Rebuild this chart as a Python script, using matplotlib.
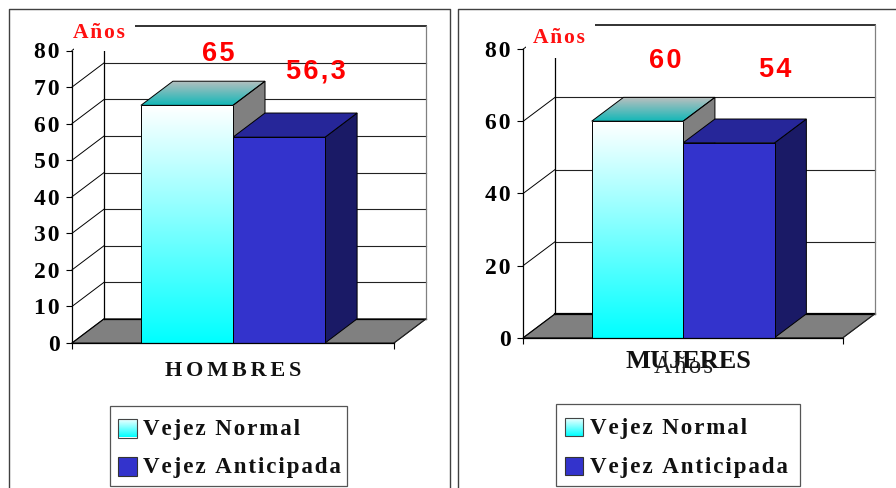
import numpy as np
import matplotlib
matplotlib.use("Agg")
import matplotlib.pyplot as plt
from matplotlib.colors import LinearSegmentedColormap
from matplotlib.patches import Polygon, Rectangle

W, H = 896, 488

panels = ["HOMBRES", "MUJERES"]
series_names = ["Vejez Normal", "Vejez Anticipada"]
vejez_normal = [65, 60]
vejez_anticipada = [56.3, 54]
ticks_hombres = [0, 10, 20, 30, 40, 50, 60, 70, 80]
ticks_mujeres = [0, 20, 40, 60, 80]

SERIF = "Liberation Serif"
SANS = "Liberation Sans"
BAR_W = 0.286
DEPTH_X = 0.0994
DEPTH_Y = 6.6

front_cmap = LinearSegmentedColormap.from_list("front", ["#ffffff", "#00ffff"])
top_cmap = LinearSegmentedColormap.from_list("top", ["#bcbfbf", "#14b8b8"])
grad = np.linspace(0, 1, 128).reshape(-1, 1)


def spaced(s, n=1):
    # no letter-spacing in matplotlib, hair spaces get close enough
    return ("\u200a" * n).join(s)


def box_3d(ax, x, v, top_color, side_color):
    side = Polygon([(x + BAR_W, 0), (x + BAR_W + DEPTH_X, DEPTH_Y),
                    (x + BAR_W + DEPTH_X, v + DEPTH_Y), (x + BAR_W, v)],
                   fc=side_color, ec="black", lw=0.7, clip_on=False, zorder=3)
    ax.add_patch(side)
    top = Polygon([(x, v), (x + BAR_W, v), (x + BAR_W + DEPTH_X, v + DEPTH_Y),
                   (x + DEPTH_X, v + DEPTH_Y)],
                  fc=top_color, ec="black", lw=0.7, clip_on=False, zorder=3)
    ax.add_patch(top)
    return top


def draw_panel(rect, ticks, normal, anticipada, floor_lw):
    x0, x1, y_top, y_zero = rect
    ax = fig.add_axes([x0 / W, 1 - y_zero / H, (x1 - x0) / W, (y_zero - y_top) / H])
    ax.patch.set_alpha(0)
    ax.set_xlim(0, 1)
    ax.set_ylim(0, 80)

    # floor and back wall
    ax.add_patch(Polygon([(0, 0), (1, 0), (1 + DEPTH_X, DEPTH_Y), (DEPTH_X, DEPTH_Y)],
                         fc="#808080", ec="#222222", lw=0.8, clip_on=False, zorder=1))
    ax.plot([DEPTH_X, 1 + DEPTH_X], [DEPTH_Y, DEPTH_Y], color="black", lw=floor_lw,
            clip_on=False, zorder=1)
    for t in ticks[1:]:
        ax.plot([DEPTH_X, 1 + DEPTH_X], [t + DEPTH_Y, t + DEPTH_Y], color="#222222",
                lw=1.3 if t == 80 else 0.8, clip_on=False, zorder=1)
    for t in ticks:
        ax.plot([0, DEPTH_X], [t, t + DEPTH_Y], color="black", lw=0.7, clip_on=False, zorder=1)
    ax.plot([DEPTH_X, DEPTH_X], [DEPTH_Y, 80 + DEPTH_Y], color="black", lw=0.9, clip_on=False, zorder=1)
    ax.plot([1 + DEPTH_X, 1 + DEPTH_X], [DEPTH_Y, 80 + DEPTH_Y], color="#808080", lw=0.9,
            clip_on=False, zorder=1)
    ax.plot([1, 1 + DEPTH_X], [0, DEPTH_Y], color="#222222", lw=0.7, clip_on=False, zorder=1)

    # first bar, gradient front and top
    xa = 0.5 - BAR_W
    xb = 0.5
    top = box_3d(ax, xa, normal, "none", "#808080")
    im = ax.imshow(grad, extent=[xa, xb + DEPTH_X, normal, normal + DEPTH_Y], cmap=top_cmap,
                   aspect="auto", zorder=2.9, clip_on=True)
    im.set_clip_path(Polygon(top.get_xy(), transform=ax.transData))
    ax.imshow(grad, extent=[xa, xb, 0, normal], cmap=front_cmap, aspect="auto", zorder=3.5)
    ax.bar([xa], [normal], BAR_W, align="edge", fc="none", ec="black", lw=0.7, zorder=3.6)

    # second bar
    box_3d(ax, xb, anticipada, "#262699", "#1a1a66")
    ax.bar([xb], [anticipada], BAR_W, align="edge", fc="#3333cc", ec="black", lw=0.7, zorder=3.7)

    ax.set_xlim(0, 1)
    ax.set_ylim(0, 80)
    for s in ["top", "right"]:
        ax.spines[s].set_visible(False)
    for s in ["left", "bottom"]:
        ax.spines[s].set_linewidth(0.9)
        ax.spines[s].set_zorder(4)
    ax.set_yticks(ticks)
    ax.set_yticklabels([spaced(str(t)) for t in ticks], family=SERIF, weight="bold", fontsize=17)
    ax.tick_params(axis="y", length=4, width=0.8, pad=5)
    ax.set_xticks([0, 1])
    ax.set_xticklabels(["", ""])
    ax.tick_params(axis="x", length=4, width=0.8)
    return ax


def legend_box(x0, x1, y0, y1, sw_x, sw_y, text_x):
    ov.add_patch(Rectangle((x0, y0), x1 - x0, y1 - y0, fc="white", ec="#555555", lw=0.9, zorder=5))
    s = 18.5
    ov.imshow(grad, extent=[sw_x, sw_x + s, sw_y[0] + s, sw_y[0]], cmap=front_cmap, aspect="auto", zorder=6)
    ov.add_patch(Rectangle((sw_x, sw_y[0]), s, s, fc="none", ec="#444444", lw=0.8, zorder=7))
    ov.add_patch(Rectangle((sw_x, sw_y[1]), s, s, fc="#3333cc", ec="#333333", lw=0.8, zorder=7))
    for name, y in zip(series_names, sw_y):
        ov.text(text_x, y + s / 2 + 1.5, spaced(name), family=SERIF, weight="bold", fontsize=16.6,
                va="center", ha="left", color="#111111", zorder=7)


fig = plt.figure(figsize=(W / 100, H / 100), dpi=100, facecolor="white")

draw_panel((72, 394, 50.5, 343), ticks_hombres, vejez_normal[0], vejez_anticipada[0], 0.9)
draw_panel((523.3, 843, 49, 337.7), ticks_mujeres, vejez_normal[1], vejez_anticipada[1], 1.6)

# pixel-space layer for frames, labels and legends
ov = fig.add_axes([0, 0, 1, 1], zorder=10)
ov.patch.set_alpha(0)
ov.set_axis_off()

ov.add_patch(Rectangle((74, 15), 61, 35.5, fc="white", ec="none", zorder=2))
ov.add_patch(Rectangle((526, 15), 69, 43, fc="white", ec="none", zorder=2))

ov.plot([8.5, 8.5, 450, 450], [488, 9, 9, 488], color="#404040", lw=1.0, zorder=3)
ov.plot([458, 458, 896], [488, 9, 9], color="#404040", lw=1.0, zorder=3)

for x, y in [(99, 33), (559, 38)]:
    ov.text(x, y, spaced("Años"), family=SERIF, weight="bold", color="#ff1010", fontsize=15.5,
            ha="center", va="center", zorder=4)

value_pos = [((218, 54), (316, 71.5)), ((665.7, 61), (775, 70))]
for (pa, pb), a, b in zip(value_pos, vejez_normal, vejez_anticipada):
    for (x, y), v in zip((pa, pb), (a, b)):
        ov.text(x, y, spaced(f"{v:g}".replace(".", ",")), family=SANS, weight="bold", color="#ff0000",
                fontsize=19.5, ha="center", va="center", zorder=4)

ov.text(233.5, 370.5, spaced(panels[0], 2), family=SERIF, weight="bold", fontsize=16, color="#111111",
        ha="center", va="center")
ov.text(688, 362, panels[1], family=SERIF, weight="bold", fontsize=19, color="#111111",
        ha="center", va="center")
ov.text(683, 367, spaced("Años"), family=SERIF, fontsize=18, color="#222222", ha="center", va="center")

legend_box(110, 346.5, 405.7, 485.7, 118, (419, 457), 143)
legend_box(556, 800, 403.5, 485.7, 564.5, (417.5, 456.5), 590)

ov.set_xlim(0, W)
ov.set_ylim(H, 0)

fig.savefig("out.png", dpi=100)
